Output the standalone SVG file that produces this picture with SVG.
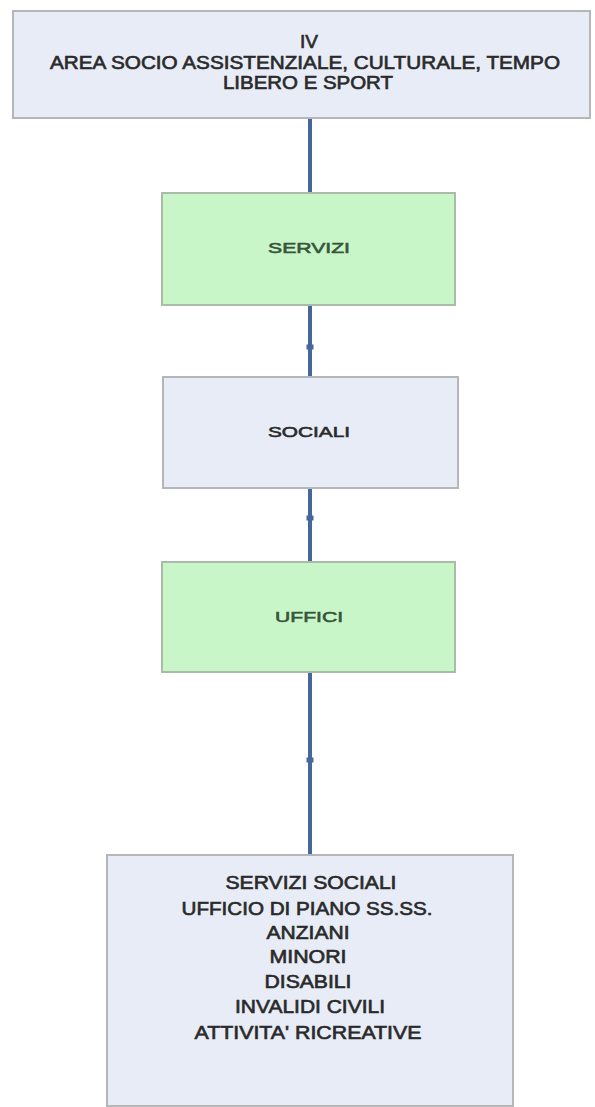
<svg xmlns="http://www.w3.org/2000/svg" width="595" height="1107" viewBox="0 0 595 1107">
  <style>
    .box-blue { fill: #e7ecf6; stroke: #b4b6ba; stroke-width: 2; }
    .box-green { fill: #c8f6c8; stroke: #a8bca8; stroke-width: 2; }
    .label { font-family: "Liberation Sans", Arial, sans-serif; text-anchor: middle; fill: #2a2a2a; stroke: #2a2a2a; stroke-width: 0.6; }
    .label-green { fill: #36553a; stroke: #36553a; }
    .link { fill: none; stroke: #46679a; stroke-width: 4; }
  </style>
  <defs>
    <marker id="knot" markerWidth="10" markerHeight="10" refX="5" refY="5" markerUnits="userSpaceOnUse">
      <rect x="1.5" y="2.5" width="7" height="5" fill="#46679a"/>
    </marker>
  </defs>

  <rect width="595" height="1107" fill="#ffffff"/>

  <!-- connectors -->
  <g id="connectors">
    <path class="link" d="M310 118 L310 193"/>
    <path class="link" d="M310 305 L310 347 L310 377" marker-mid="url(#knot)"/>
    <path class="link" d="M310 488 L310 518 L310 562" marker-mid="url(#knot)"/>
    <path class="link" d="M310 672 L310 760 L310 855" marker-mid="url(#knot)"/>
  </g>

  <!-- area header -->
  <g id="node-area">
    <rect class="box-blue" x="13" y="11" width="577" height="107"/>
    <text class="label" font-size="17.5" x="309" y="48" textLength="18" lengthAdjust="spacingAndGlyphs">IV</text>
    <text class="label" font-size="17.5" x="305" y="69" textLength="510" lengthAdjust="spacingAndGlyphs">AREA SOCIO ASSISTENZIALE, CULTURALE, TEMPO</text>
    <text class="label" font-size="17.5" x="308" y="89" textLength="170" lengthAdjust="spacingAndGlyphs">LIBERO E SPORT</text>
  </g>

  <!-- servizi -->
  <g id="node-servizi">
    <rect class="box-green" x="162" y="193" width="293" height="112"/>
    <text class="label label-green" font-size="15.5" x="309" y="253" textLength="82" lengthAdjust="spacingAndGlyphs">SERVIZI</text>
  </g>

  <!-- sociali -->
  <g id="node-sociali">
    <rect class="box-blue" x="163" y="377" width="295" height="111"/>
    <text class="label" font-size="15.5" x="309" y="437" textLength="82" lengthAdjust="spacingAndGlyphs">SOCIALI</text>
  </g>

  <!-- uffici -->
  <g id="node-uffici">
    <rect class="box-green" x="162" y="562" width="293" height="110"/>
    <text class="label label-green" font-size="15.5" x="309" y="622" textLength="68" lengthAdjust="spacingAndGlyphs">UFFICI</text>
  </g>

  <!-- office list -->
  <g id="node-uffici-elenco">
    <rect class="box-blue" x="107" y="855" width="406" height="251"/>
    <text class="label" font-size="17.5" x="311" y="889" textLength="171" lengthAdjust="spacingAndGlyphs">SERVIZI SOCIALI</text>
    <text class="label" font-size="17.5" x="307" y="915" textLength="251" lengthAdjust="spacingAndGlyphs">UFFICIO DI PIANO SS.SS.</text>
    <text class="label" font-size="17.5" x="308" y="939" textLength="83" lengthAdjust="spacingAndGlyphs">ANZIANI</text>
    <text class="label" font-size="17.5" x="308" y="963" textLength="77" lengthAdjust="spacingAndGlyphs">MINORI</text>
    <text class="label" font-size="17.5" x="308" y="988" textLength="87" lengthAdjust="spacingAndGlyphs">DISABILI</text>
    <text class="label" font-size="17.5" x="310" y="1013" textLength="150" lengthAdjust="spacingAndGlyphs">INVALIDI CIVILI</text>
    <text class="label" font-size="17.5" x="308" y="1039" textLength="227" lengthAdjust="spacingAndGlyphs">ATTIVITA' RICREATIVE</text>
  </g>
</svg>
